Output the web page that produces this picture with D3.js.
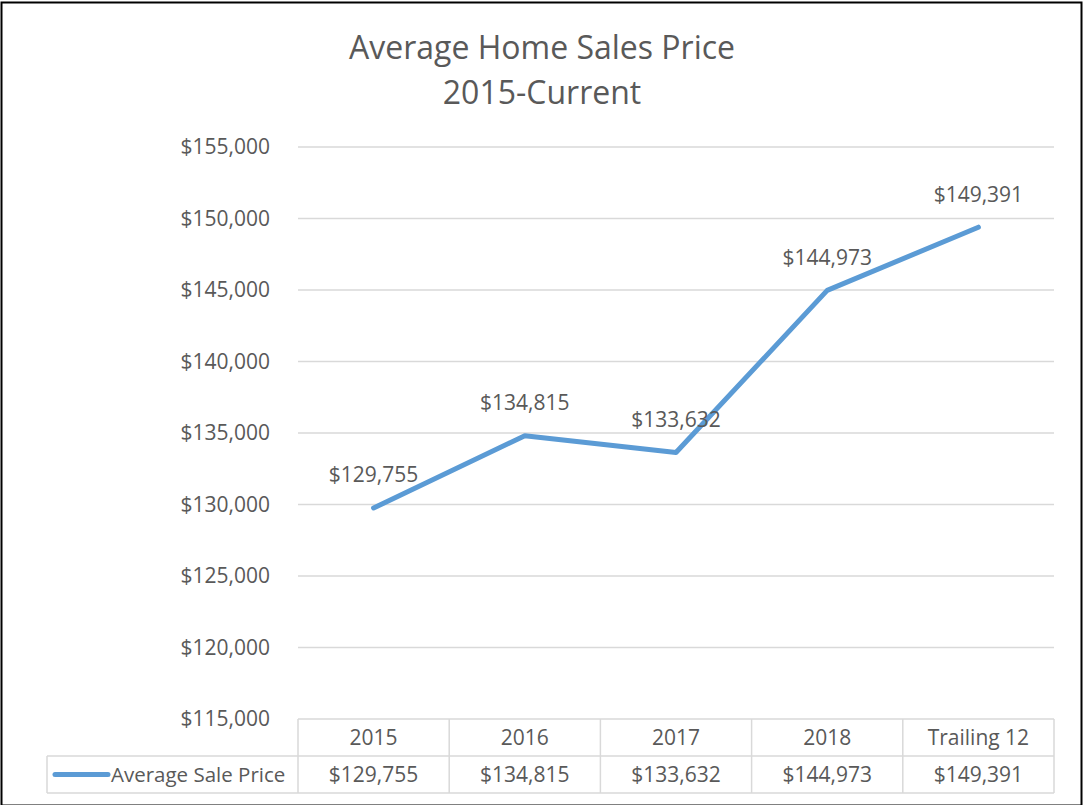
<!DOCTYPE html>
<html><head><meta charset="utf-8">
<script src="https://cdn.jsdelivr.net/npm/d3@7"></script>
<style>body{margin:0;background:#fff}svg{display:block}text{font-family:"Open Sans",sans-serif;fill:#595959}</style>
</head><body>
<script>
const categories = ["2015","2016","2017","2018","Trailing 12"];
const values = [129755,134815,133632,144973,149391];
const yTicks = [115000,120000,125000,130000,135000,140000,145000,150000,155000];
const seriesName = "Average Sale Price";
const titleLines = ["Average Home Sales Price","2015-Current"];

(function(){
const W=1084,H=805;
const svg=d3.select("body").append("svg").attr("width",W).attr("height",H);
svg.append("rect").attr("x",1.5).attr("y",2.5).attr("width",1080).attr("height",803).attr("fill","#fff").attr("stroke","#000").attr("stroke-width",2);

const pL=298,pR=1054,pT=147,pB=719;
const x=d3.scaleBand().domain(categories).range([pL,pR]);
const y=d3.scaleLinear().domain([115000,155000]).range([pB,pT]);
const fmt=v=>"$"+d3.format(",")(v);
const fs=21;

svg.selectAll(".t").data(titleLines).join("text")
 .attr("x",542).attr("y",(d,i)=>48+i*45).attr("dy","0.35em").attr("text-anchor","middle")
 .style("font-size","32px").text(d=>d);

const yAxis=d3.axisLeft(y).tickValues(yTicks).tickFormat(fmt).tickSize(0).tickPadding(0);
const gy=svg.append("g").attr("transform",`translate(${pL},0)`).call(yAxis);
gy.select(".domain").remove();
gy.selectAll("text").attr("x",-28).style("font-size",fs+"px").style("font-family","'Open Sans',sans-serif").attr("fill","#595959");

svg.append("g").selectAll("line").data(yTicks.slice(1)).join("line")
 .attr("x1",pL).attr("x2",pR).attr("y1",d=>y(d)).attr("y2",d=>y(d))
 .attr("stroke","#d9d9d9").attr("stroke-width",1.3);

const line=d3.line().x((d,i)=>x(categories[i])+x.bandwidth()/2).y(d=>y(d));
svg.append("path").datum(values).attr("d",line).attr("fill","none")
 .attr("stroke","#5b9bd5").attr("stroke-width",5).attr("stroke-linejoin","round").attr("stroke-linecap","round");

svg.selectAll(".lbl").data(values).join("text")
 .attr("x",(d,i)=>x(categories[i])+x.bandwidth()/2).attr("y",d=>y(d)-33)
 .attr("dy","0.35em").attr("text-anchor","middle").style("font-size",fs+"px").text(fmt);

const r1=719,r2=756,r3=793,legL=47;
const tg=svg.append("g").attr("stroke","#d9d9d9").attr("stroke-width",1.5);
tg.append("line").attr("x1",pL).attr("x2",pR).attr("y1",r1).attr("y2",r1);
tg.append("line").attr("x1",legL).attr("x2",pR).attr("y1",r2).attr("y2",r2);
tg.append("line").attr("x1",legL).attr("x2",pR).attr("y1",r3).attr("y2",r3);
tg.append("line").attr("x1",legL).attr("x2",legL).attr("y1",r2).attr("y2",r3);
tg.selectAll(".v").data(categories.concat([null])).join("line")
 .attr("x1",(d,i)=>i<categories.length?x(d):pR).attr("x2",(d,i)=>i<categories.length?x(d):pR)
 .attr("y1",r1).attr("y2",r3);

svg.selectAll(".hd").data(categories).join("text")
 .attr("x",d=>x(d)+x.bandwidth()/2).attr("y",(r1+r2)/2).attr("dy","0.35em")
 .attr("text-anchor","middle").style("font-size",fs+"px").text(d=>d);
svg.selectAll(".vl").data(values).join("text")
 .attr("x",(d,i)=>x(categories[i])+x.bandwidth()/2).attr("y",(r2+r3)/2).attr("dy","0.35em")
 .attr("text-anchor","middle").style("font-size",fs+"px").text(fmt);

svg.append("line").attr("x1",55).attr("x2",108).attr("y1",(r2+r3)/2).attr("y2",(r2+r3)/2)
 .attr("stroke","#5b9bd5").attr("stroke-width",5).attr("stroke-linecap","round");
svg.append("text").attr("x",111).attr("y",(r2+r3)/2).attr("dy","0.35em").style("font-size","20.5px").text(seriesName);
})();
</script>
</body></html>
